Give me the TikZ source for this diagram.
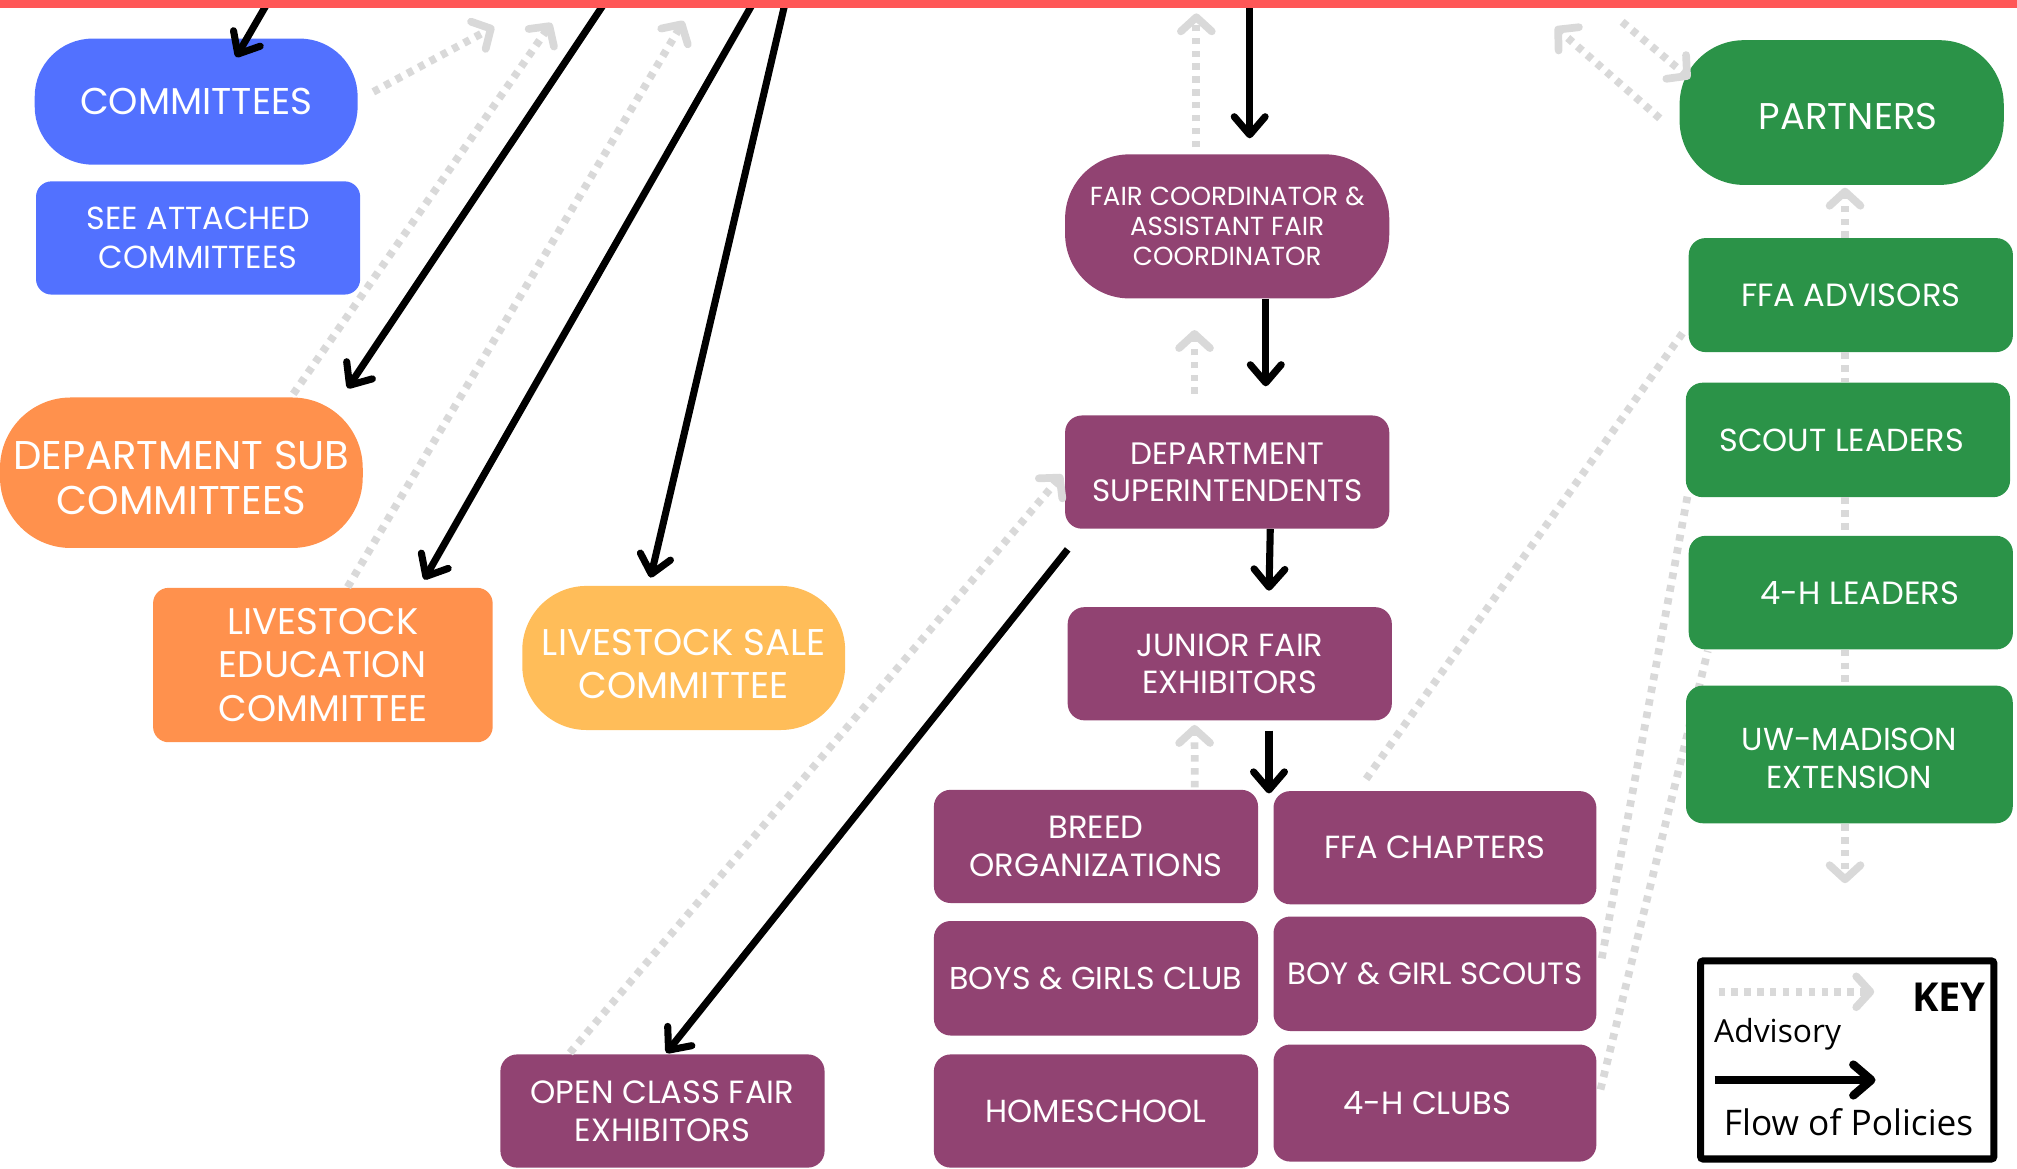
\documentclass[tikz,border=0pt]{standalone}
\usepackage{fontspec}
\setmainfont{Poppins}
\newfontfamily\keyfont{Open Sans}
\usetikzlibrary{arrows.meta,backgrounds}
\definecolor{cblue}{HTML}{5271FF}
\definecolor{corange}{HTML}{FF914D}
\definecolor{cyellow}{HTML}{FFBD59}
\definecolor{cpurple}{HTML}{914372}
\definecolor{cgreen}{HTML}{2B9348}
\definecolor{cred}{HTML}{FF5757}
\definecolor{cgrey}{HTML}{D9D9D9}
\newcommand\fsz[2]{\fontsize{#1}{#2}\selectfont}
\begin{document}
\begin{tikzpicture}[x=1pt,y=-1pt,
  box/.style={fill=#1, text=white, align=center, inner sep=0pt, draw=none},
  txt/.style={text=white, align=center, inner sep=0pt},
  flow/.style={draw=black, line width=5.5pt, -{Straight Barb[length=14pt,width=24pt,round]}},
  adv/.style={draw=cgrey, line width=6pt, dash pattern=on 5pt off 5pt, -{Straight Barb[length=11pt,width=24pt,round]}},
  advline/.style={draw=cgrey, line width=6pt, dash pattern=on 5pt off 5pt},
]
\useasboundingbox (0,0) rectangle (1568,908.77);

% ---------- free ends ----------
\coordinate (tA) at (208.1,2);
\coordinate (tB) at (470.2,2);
\coordinate (tC) at (585.6,2);
\coordinate (tD) at (610.4,2);
\coordinate (tE) at (971.5,2);
\coordinate (g1) at (384.2,20.8);
\coordinate (g2) at (428.8,17.9);
\coordinate (g3) at (531.5,16.3);
\coordinate (g5) at (930,10.4);
\coordinate (g11) at (1209,21);
\coordinate (g12) at (1261,17);
\coordinate (g17) at (1434.3,686.6);
\coordinate (clubs) at (986.5,616.8);

% ---------- boxes ----------
\node[box=cblue, minimum width=251pt, minimum height=98pt, rounded corners=45pt, font={\fsz{29}{34}}] (comm) at (152.5,79) {COMMITTEES};
\node[box=cblue, minimum width=252pt, minimum height=88pt, rounded corners=12pt, font={\fsz{24.8}{30}}] (seeatt) at (154,185) {SEE ATTACHED\\COMMITTEES};
\node[box=corange, minimum width=282pt, minimum height=117pt, rounded corners=55pt,
  label={[txt, font={\fsz{31.2}{35.4}}, yshift=-4pt]center:DEPARTMENT SUB\\COMMITTEES}] (deptsub) at (141,367.5) {};
\node[box=corange, minimum width=264pt, minimum height=120pt, rounded corners=12pt, font={\fsz{28.8}{33.5}}] (lived) at (251,517) {LIVESTOCK\\EDUCATION\\COMMITTEE};
\node[box=cyellow, minimum width=251pt, minimum height=112pt, rounded corners=50pt,
  label={[txt, font={\fsz{28.9}{33.8}}, yshift=-4.5pt]center:LIVESTOCK SALE\\COMMITTEE}] (livsale) at (531.5,511.5) {};

\node[box=cpurple, minimum width=252pt, minimum height=112pt, rounded corners=50pt, font={\fsz{20.3}{23.2}}] (faircoord) at (954,176) {FAIR COORDINATOR \&\\ASSISTANT FAIR\\COORDINATOR};
\node[box=cpurple, minimum width=252pt, minimum height=88pt, rounded corners=13pt, font={\fsz{24.1}{28.5}}] (deptsup) at (954,367) {DEPARTMENT\\SUPERINTENDENTS};
\node[box=cpurple, minimum width=252pt, minimum height=88pt, rounded corners=13pt, font={\fsz{24.9}{28.8}}] (junior) at (956,516) {JUNIOR FAIR\\EXHIBITORS};
\node[box=cpurple, minimum width=252pt, minimum height=88pt, rounded corners=13pt, font={\fsz{25}{30}}] (breed) at (852,658) {BREED\\ORGANIZATIONS};
\node[box=cpurple, minimum width=251pt, minimum height=88pt, rounded corners=13pt, font={\fsz{24.9}{29.7}}] (ffach) at (1115.5,659) {FFA CHAPTERS};
\node[box=cpurple, minimum width=252pt, minimum height=89pt, rounded corners=13pt, font={\fsz{24.6}{29.7}}] (bgclub) at (852,760.5) {BOYS \& GIRLS CLUB};
\node[box=cpurple, minimum width=251pt, minimum height=89pt, rounded corners=13pt, font={\fsz{24}{29.7}}] (scouts) at (1115.5,757) {BOY \& GIRL SCOUTS};
\node[box=cpurple, minimum width=252pt, minimum height=88pt, rounded corners=13pt, font={\fsz{24.8}{29.7}}] (homesch) at (852,863.7) {HOMESCHOOL};
\node[box=cpurple, minimum width=251pt, minimum height=91pt, rounded corners=13pt,
  label={[txt, font={\fsz{25}{29.7}}, xshift=-6pt]center:4-H CLUBS}] (hclubs) at (1115.5,857.5) {};
\node[box=cpurple, minimum width=252pt, minimum height=88pt, rounded corners=13pt, font={\fsz{25}{29.6}}] (openclass) at (515,863.7) {OPEN CLASS FAIR\\EXHIBITORS};

\node[box=cgreen, minimum width=252pt, minimum height=112.5pt, rounded corners=50pt,
  label={[txt, font={\fsz{28.9}{32}}, xshift=5pt, yshift=-3pt]center:PARTNERS}] (partners) at (1431.7,87.5) {};
\node[box=cgreen, minimum width=252pt, minimum height=88.6pt, rounded corners=13pt, font={\fsz{25}{29.7}}] (ffaadv) at (1438.8,229.4) {FFA ADVISORS};
\node[box=cgreen, minimum width=252pt, minimum height=89pt, rounded corners=13pt,
  label={[txt, font={\fsz{24.8}{29.7}}, xshift=-5pt]center:SCOUT LEADERS}] (scoutl) at (1436.6,342) {};
\node[box=cgreen, minimum width=252pt, minimum height=88.3pt, rounded corners=13pt,
  label={[txt, font={\fsz{25}{29.7}}, xshift=7pt]center:4-H LEADERS}] (hlead) at (1438.8,460.7) {};
\node[box=cgreen, minimum width=254pt, minimum height=107pt, rounded corners=13pt,
  label={[txt, font={\fsz{24.7}{29.7}}, yshift=-3pt]center:UW-MADISON\\EXTENSION}] (uw) at (1437.7,586.5) {};

% ---------- key ----------
\node[draw=black, line width=5.5pt, minimum width=228pt, minimum height=154pt, inner sep=0pt, rounded corners=2pt] (keybox) at (1436,824) {};
\node[anchor=base, inner sep=0pt, font={\keyfont\bfseries\fsz{31}{34}}] (ktitle) at (1515,786.4) {KEY};
\node[anchor=base west, inner sep=0pt, font={\keyfont\fsz{24.7}{28}}] (kadv) at (1332.4,810.5) {Advisory};
\node[anchor=base west, inner sep=0pt, font={\keyfont\fsz{27.4}{30}}] (kflow) at (1340,882.5) {Flow of Policies};
\coordinate (ka1) at (1336,771);
\coordinate (ka2) at (1457,771);
\coordinate (kb1) at (1333,839.6);
\coordinate (kb2) at (1458,839.6);
\draw[adv] (ka1) -- (ka2);
\draw[flow, line width=6.5pt] (kb1) -- (kb2);

% ---------- advisory lines passing behind boxes ----------
\begin{scope}[on background layer]
\draw[advline] ([shift={(72.2,-9.2)}]ffach.north west) -- ([shift={(-1.8,25.6)}]ffaadv.west);
\draw[advline] ([shift={(4,-12)}]scouts.east) -- ([shift={(2,-4)}]scoutl.south west);
\draw[advline] ([shift={(3,-10.5)}]hclubs.east) -- ([shift={(15,1)}]hlead.south west);
\end{scope}

% ---------- advisory (grey dotted) ----------
\draw[adv] ([shift={(12,-7.6)}]comm.east) -- (g1);
\draw[adv] ([shift={(87,-2.6)}]deptsub.north) -- (g2);
\draw[adv] ([shift={(19.2,-0.4)}]lived.north) -- (g3);
\draw[adv] ([shift={(-72,-1)}]openclass.north) -- ([shift={(-2,2)}]deptsup.west);
\draw[adv] ([shift={(-24,-5.5)}]faircoord.north) -- (g5);
\draw[adv] ([shift={(-25.4,-16.6)}]deptsup.north) -- ([shift={(-25.4,24.4)}]faircoord.south);
\draw[adv] ([shift={(-49.4,-1.7)}]breed.north east) -- ([shift={(-27.4,3.4)}]junior.south);
\draw[adv] ([shift={(-15.2,4.5)}]partners.west) -- (g11);
\draw[adv] (g12) -- ([shift={(8.3,-26.5)}]partners.west);
\draw[adv] ([shift={(-4.5,0)}]ffaadv.north) -- ([shift={(2.6,2)}]partners.south);
\draw[advline] ([shift={(-4.5,0)}]ffaadv.south) -- ([shift={(-2.3,0)}]scoutl.north);
\draw[advline] ([shift={(-2.3,0)}]scoutl.south) -- ([shift={(-4.5,0)}]hlead.north);
\draw[advline] ([shift={(-4.5,0)}]hlead.south) -- ([shift={(-3.4,0)}]uw.north);
\draw[adv] ([shift={(-3.4,0.6)}]uw.south) -- (g17);

% ---------- flow of policies (black) ----------
\draw[flow] (tA) -- ([shift={(31,14.6)}]comm.north);
\draw[flow] (tB) -- ([shift={(129.2,-7)}]deptsub.north);
\draw[flow] (tC) -- ([shift={(78.7,-6.3)}]lived.north);
\draw[flow] (tD) -- ([shift={(-25.8,-6.3)}]livsale.north);
\draw[flow] (tE) -- ([shift={(17.5,-12.3)}]faircoord.north);
\draw[flow] ([shift={(30,0)}]faircoord.south) -- ([shift={(30,-22.5)}]deptsup.north);
\draw[flow] ([shift={(33.5,0)}]deptsup.south) -- ([shift={(30.5,-12.6)}]junior.north);
\draw[flow] ([shift={(30.5,7.8)}]junior.south) -- (clubs);
\draw[flow] ([shift={(2.2,15.9)}]deptsup.south west) -- ([shift={(3,-1)}]openclass.north);

% red top bar
\fill[cred] (0,0) rectangle (1568,6);
\end{tikzpicture}
\end{document}
